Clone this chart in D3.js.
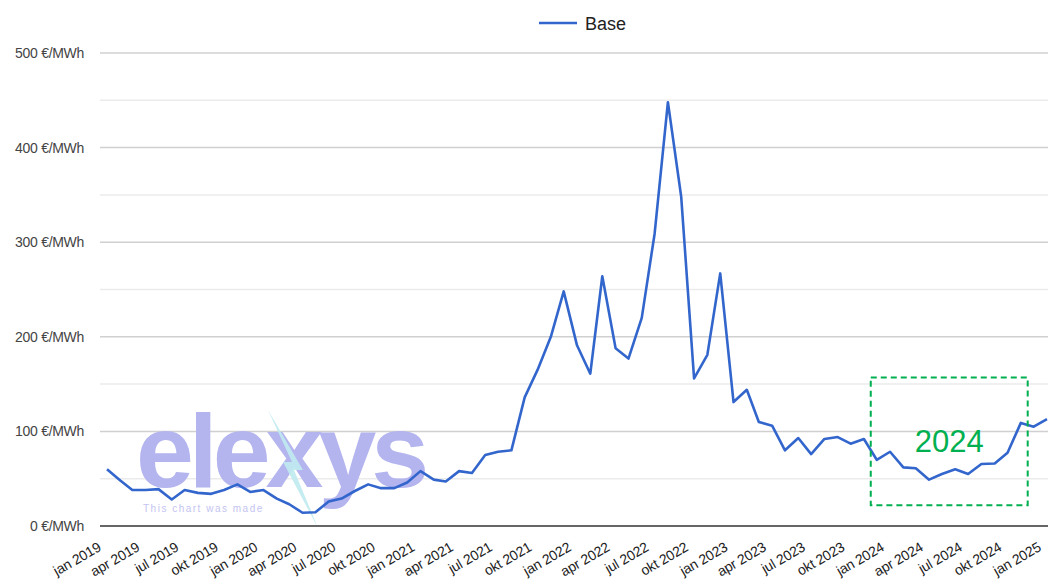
<!DOCTYPE html>
<html>
<head>
<meta charset="utf-8">
<script src="https://cdn.jsdelivr.net/npm/d3@7/dist/d3.min.js"></script>
<style>
  html, body { margin: 0; padding: 0; background: #fff; }
  svg { display: block; font-family: Arial, "Liberation Sans", sans-serif; }
</style>
</head>
<body>
<svg id="chart" width="1048" height="588"></svg>
<script>
// ---- data (monthly average, €/MWh) ----
const startYear = 2019;
const seriesName = "Base";
const values = [
  60, 48, 38, 38, 39, 28, 38, 35, 34, 38, 44, 36,          // 2019
  38, 29, 23, 14, 14.5, 26, 29, 37, 44, 40, 40, 46,        // 2020
  58, 49, 47, 58, 56, 75, 78.5, 80, 136, 165, 200, 248,    // 2021
  191, 161, 264, 188, 177, 220, 309, 448, 348, 156, 181, 267, // 2022
  131, 144, 110, 106, 80, 93, 76, 92, 94, 87, 92, 70,      // 2023
  78.5, 62, 61, 49, 55, 60, 55, 65.5, 66, 77.5, 109, 105,  // 2024
  113                                                      // 2025
];
const monthNames = ["jan", "apr", "jul", "okt"];
const yTicks = [0, 100, 200, 300, 400, 500];
const yMinorTicks = [50, 150, 250, 350, 450];
const highlightYear = "2024";
const highlightRange = [new Date(2023, 11, 1), new Date(2024, 11, 1)];
const highlightValues = [22, 157];

// ---- layout ----
const svg = d3.select("#chart");
const dates = values.map((v, i) => new Date(startYear, i, 1));
const x = d3.scaleTime()
  .domain([dates[0], dates[dates.length - 1]])
  .range([107, 1047]);
const y = d3.scaleLinear().domain([0, 500]).range([526, 53]);
const gridLeft = 100, gridRight = 1048;

// minor gridlines
svg.append("g").selectAll("line").data(yMinorTicks).join("line")
  .attr("x1", gridLeft).attr("x2", gridRight)
  .attr("y1", d => y(d)).attr("y2", d => y(d))
  .attr("stroke", "#ebebeb").attr("stroke-width", 1.5);

// major gridlines
svg.append("g").selectAll("line").data(yTicks.filter(d => d !== 0)).join("line")
  .attr("x1", gridLeft).attr("x2", gridRight)
  .attr("y1", d => y(d)).attr("y2", d => y(d))
  .attr("stroke", "#d0d0d0").attr("stroke-width", 1.5);

// y labels
svg.append("g").selectAll("text").data(yTicks).join("text")
  .attr("x", 84).attr("y", d => y(d)).attr("dy", "0.35em")
  .attr("text-anchor", "end")
  .attr("font-size", 14).attr("fill", "#444")
  .attr("letter-spacing", "-0.3")
  .text(d => d + " €/MWh");

// watermark
const wm = svg.append("g");
wm.append("text")
  .attr("x", 136).attr("y", 487)
  .attr("font-size", 104).attr("font-weight", "bold")
  .attr("letter-spacing", "-5")
  .attr("fill", "#b4b4ef")
  .text("elexys");
wm.append("path")
  .attr("d", "M268,410 L292,462 L283,462 L318,528 L294,470 L303,470 Z")
  .attr("fill", "#bfeaf0").attr("opacity", 0.9);
wm.append("text")
  .attr("x", 143).attr("y", 512)
  .attr("font-size", 10).attr("fill", "#c4c4f2")
  .attr("letter-spacing", "1.5")
  .text("This chart was made");

// baseline
svg.append("line")
  .attr("x1", gridLeft).attr("x2", gridRight)
  .attr("y1", y(0)).attr("y2", y(0))
  .attr("stroke", "#333").attr("stroke-width", 1.5);

// x labels
const tickDates = d3.timeMonth.every(3).range(dates[0], d3.timeDay.offset(dates[dates.length - 1], 1));
svg.append("g").selectAll("text").data(tickDates).join("text")
  .attr("transform", d => `translate(${x(d) - 5},550) rotate(-30)`)
  .attr("text-anchor", "end")
  .attr("font-size", 14).attr("fill", "#222")
  .attr("letter-spacing", "-0.2")
  .text(d => monthNames[d.getMonth() / 3] + " " + d.getFullYear());

// data line
const line = d3.line()
  .x((d, i) => x(dates[i]))
  .y(d => y(d));
svg.append("path")
  .datum(values)
  .attr("d", line)
  .attr("fill", "none")
  .attr("stroke", "#3366cc")
  .attr("stroke-width", 2.6)
  .attr("stroke-linejoin", "round");

// legend
svg.append("line")
  .attr("x1", 539).attr("x2", 577).attr("y1", 23).attr("y2", 23)
  .attr("stroke", "#3366cc").attr("stroke-width", 2.6);
svg.append("text")
  .attr("x", 585).attr("y", 30)
  .attr("font-size", 18).attr("fill", "#222")
  .text(seriesName);

// highlight box
const hx0 = x(highlightRange[0]) - 6, hx1 = x(highlightRange[1]) - 6;
const hy0 = y(highlightValues[1]), hy1 = y(highlightValues[0]);
svg.append("rect")
  .attr("x", hx0).attr("y", hy0)
  .attr("width", hx1 - hx0).attr("height", hy1 - hy0)
  .attr("fill", "none")
  .attr("stroke", "#00b050").attr("stroke-width", 2)
  .attr("stroke-dasharray", "6,4");
svg.append("text")
  .attr("x", (hx0 + hx1) / 2).attr("y", 452)
  .attr("text-anchor", "middle")
  .attr("font-size", 31).attr("fill", "#00b050")
  .text(highlightYear);
</script>
</body>
</html>
